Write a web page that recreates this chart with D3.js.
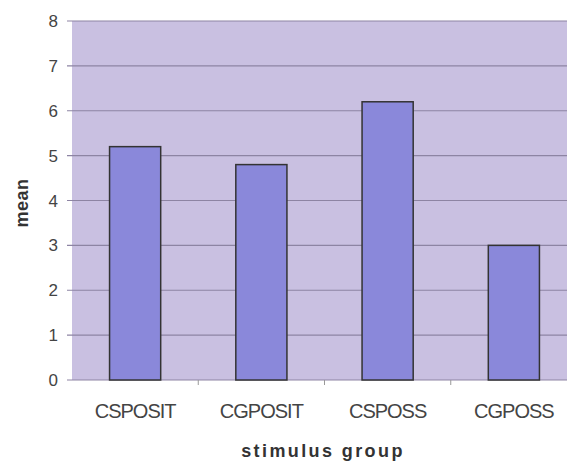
<!DOCTYPE html>
<html><head><meta charset="utf-8">
<script src="https://cdn.jsdelivr.net/npm/d3@7"></script>
<style>body{margin:0;background:#fff}svg{display:block}</style>
</head><body>
<script>
const categories = ["CSPOSIT", "CGPOSIT", "CSPOSS", "CGPOSS"];
const values = [5.2, 4.8, 6.2, 3.0];
const yTicks = [0, 1, 2, 3, 4, 5, 6, 7, 8];

const W = 567, H = 464;
const m = {left: 72, top: 21, right: -10, bottom: 84};
const svg = d3.select("body").append("svg").attr("width", W).attr("height", H);
const x = d3.scaleBand().domain(categories).range([m.left, W - m.right]).paddingInner(0.595).paddingOuter(0.2975);
const xb = d3.scaleBand().domain(categories).range([m.left, W - m.right]);
const y = d3.scaleLinear().domain([0, 8]).range([H - m.bottom, m.top]);
const font = "Arial, Liberation Sans, sans-serif";

svg.append("rect").attr("x", m.left).attr("y", y(8)).attr("width", W - m.left).attr("height", y(0) - y(8)).attr("fill", "#c9c0e1");

svg.append("g").selectAll("line").data(yTicks).join("line")
  .attr("x1", m.left - 5).attr("x2", W).attr("y1", d => y(d)).attr("y2", d => y(d))
  .attr("stroke", "#8d84a3").attr("stroke-width", 1.2);

svg.append("g").selectAll("text").data(yTicks).join("text")
  .attr("x", m.left - 14).attr("y", d => y(d)).attr("dy", "0.36em").attr("text-anchor", "end")
  .attr("font-family", font).attr("font-size", 17).attr("fill", "#444")
  .text(d => d);

svg.append("g").selectAll("rect").data(values).join("rect")
  .attr("x", (d, i) => x(categories[i])).attr("width", x.bandwidth())
  .attr("y", d => y(d)).attr("height", d => y(0) - y(d))
  .attr("fill", "#8a88da").attr("stroke", "#333").attr("stroke-width", 1.5);

svg.append("g").selectAll("line").data(categories.slice(1)).join("line")
  .attr("x1", d => xb(d)).attr("x2", d => xb(d)).attr("y1", y(0)).attr("y2", y(0) + 5)
  .attr("stroke", "#999").attr("stroke-width", 1);

svg.append("g").selectAll("text").data(categories).join("text")
  .attr("x", d => x(d) + x.bandwidth() / 2).attr("y", 418).attr("text-anchor", "middle")
  .attr("font-family", font).attr("font-size", 20).attr("fill", "#444")
  .attr("letter-spacing", "-1px")
  .text(d => d);

svg.append("text").attr("x", 323).attr("y", 457).attr("text-anchor", "middle")
  .attr("font-family", font).attr("font-size", 18).attr("font-weight", "bold").attr("fill", "#333")
  .attr("letter-spacing", "2.4px")
  .text("stimulus group");

svg.append("text").attr("transform", "translate(28,203) rotate(-90)").attr("text-anchor", "middle")
  .attr("font-family", font).attr("font-size", 18).attr("font-weight", "bold").attr("fill", "#333")
  .attr("letter-spacing", "0.5px")
  .text("mean");
</script>
</body></html>
